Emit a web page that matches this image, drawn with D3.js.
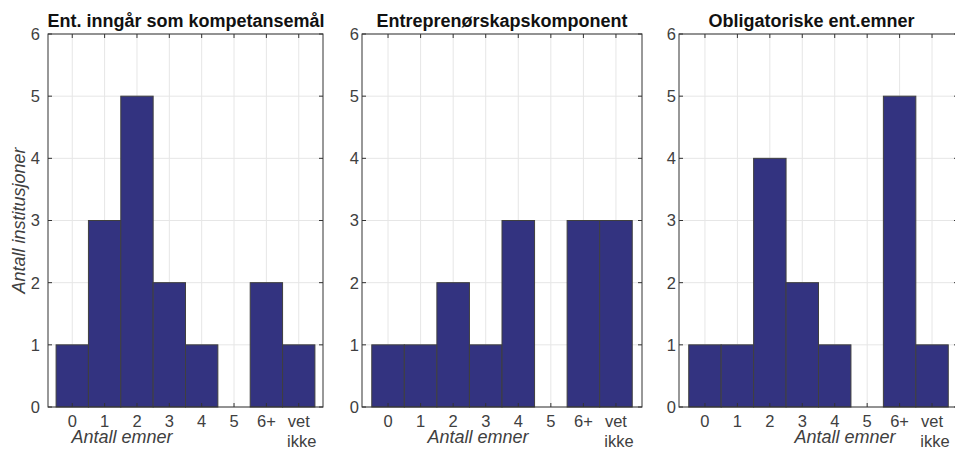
<!DOCTYPE html>
<html>
<head>
<meta charset="utf-8">
<script src="https://cdn.jsdelivr.net/npm/d3@7"></script>
<style>
html,body{margin:0;padding:0;background:#fff;}
svg{display:block;font-family:"Liberation Sans",Arial,Helvetica,sans-serif;}
</style>
</head>
<body>
<svg id="chart" width="955" height="449"></svg>
<script>
// ---- data ----
const categories = ["0", "1", "2", "3", "4", "5", "6+", "vet ikke"];
const yTicks = [0, 1, 2, 3, 4, 5, 6];
const titles = ["Ent. inngår som kompetansemål", "Entreprenørskapskomponent", "Obligatoriske ent.emner"];
const valuesKompetansemal = [1, 3, 5, 2, 1, 0, 2, 1];
const valuesKomponent = [1, 1, 2, 1, 3, 0, 3, 3];
const valuesObligatoriske = [1, 1, 4, 2, 1, 0, 5, 1];
const xLabel = "Antall emner";
const yLabel = "Antall institusjoner";

// ---- layout ----
const svg = d3.select("#chart");
const plotTop = 34, plotBottom = 407;
const panels = [
  {title: titles[0], values: valuesKompetansemal, range: [48, 323], dom: [-0.75, 7.75], titleX: 186, xlabX: 122, yLabGap: 8},
  {title: titles[1], values: valuesKomponent, range: [362, 642], dom: [-0.8, 7.8], titleX: 502, xlabX: 478, yLabGap: 3},
  {title: titles[2], values: valuesObligatoriske, range: [679, 958], dom: [-0.8, 7.8], titleX: 811.5, xlabX: 845, yLabGap: 3}
];
const y = d3.scaleLinear().domain([0, 6]).range([plotBottom, plotTop]);
const axisColor = "#333333";
const gridColor = "#e6e6e6";
const tickColor = "#404040";

panels.forEach((p, pi) => {
  const x = d3.scaleLinear().domain(p.dom).range(p.range);
  const g = svg.append("g");
  const idx = categories.map((c, i) => i);

  // grid
  g.selectAll("line.vg").data(idx).enter().append("line")
    .attr("x1", d => x(d)).attr("x2", d => x(d))
    .attr("y1", y(6)).attr("y2", y(0))
    .attr("stroke", gridColor).attr("stroke-width", 1);
  g.selectAll("line.hg").data(yTicks).enter().append("line")
    .attr("x1", p.range[0]).attr("x2", p.range[1])
    .attr("y1", d => y(d)).attr("y2", d => y(d))
    .attr("stroke", gridColor).attr("stroke-width", 1);

  // bars
  g.selectAll("rect.bar").data(p.values).enter().append("rect")
    .attr("x", (d, i) => x(i - 0.5))
    .attr("width", (d, i) => x(i + 0.5) - x(i - 0.5))
    .attr("y", d => y(d))
    .attr("height", d => y(0) - y(d))
    .attr("fill", "#333380")
    .attr("stroke", "#3f3f3f")
    .attr("stroke-width", 1);

  // box
  g.append("rect")
    .attr("x", p.range[0]).attr("y", plotTop)
    .attr("width", p.range[1] - p.range[0]).attr("height", plotBottom - plotTop)
    .attr("fill", "none").attr("stroke", axisColor).attr("stroke-width", 1);

  // tick marks (inward)
  const tl = 4;
  g.selectAll("line.xtb").data(idx).enter().append("line")
    .attr("x1", d => x(d)).attr("x2", d => x(d))
    .attr("y1", plotBottom).attr("y2", plotBottom - tl).attr("stroke", axisColor);
  g.selectAll("line.xtt").data(idx).enter().append("line")
    .attr("x1", d => x(d)).attr("x2", d => x(d))
    .attr("y1", plotTop).attr("y2", plotTop + tl).attr("stroke", axisColor);
  g.selectAll("line.ytl").data(yTicks).enter().append("line")
    .attr("x1", p.range[0]).attr("x2", p.range[0] + tl)
    .attr("y1", d => y(d)).attr("y2", d => y(d)).attr("stroke", axisColor);
  g.selectAll("line.ytr").data(yTicks).enter().append("line")
    .attr("x1", p.range[1]).attr("x2", p.range[1] - tl)
    .attr("y1", d => y(d)).attr("y2", d => y(d)).attr("stroke", axisColor);

  // y tick labels
  g.selectAll("text.yl").data(yTicks).enter().append("text")
    .attr("x", p.range[0] - p.yLabGap).attr("y", d => y(d))
    .attr("dy", "0.36em")
    .attr("text-anchor", "end")
    .attr("font-size", 16.5).attr("fill", tickColor)
    .text(d => d);

  // x tick labels
  const xt = g.selectAll("text.xl").data(categories).enter().append("text")
    .attr("x", (d, i) => x(i)).attr("y", 427)
    .attr("text-anchor", "middle")
    .attr("font-size", 16.5).attr("fill", tickColor);
  xt.each(function(d, i) {
    const parts = d.split(" ");
    const t = d3.select(this);
    parts.forEach((s, k) => {
      t.append("tspan").attr("x", x(i) + (k > 0 ? 3 : 0)).attr("dy", k === 0 ? 0 : 20).text(s);
    });
  });

  // x label
  g.append("text")
    .attr("x", p.xlabX).attr("y", 443)
    .attr("text-anchor", "middle")
    .attr("font-size", 18).attr("font-style", "italic").attr("fill", tickColor)
    .text(xLabel);

  // title
  g.append("text")
    .attr("x", p.titleX).attr("y", 27)
    .attr("text-anchor", "middle")
    .attr("font-size", 18).attr("font-weight", "bold").attr("fill", "#111")
    .text(p.title);

  if (pi === 0) {
    svg.append("text")
      .attr("transform", `translate(25, ${(plotTop + plotBottom) / 2}) rotate(-90)`)
      .attr("text-anchor", "middle")
      .attr("font-size", 18).attr("font-style", "italic").attr("fill", tickColor)
      .text(yLabel);
  }
});
</script>
</body>
</html>
